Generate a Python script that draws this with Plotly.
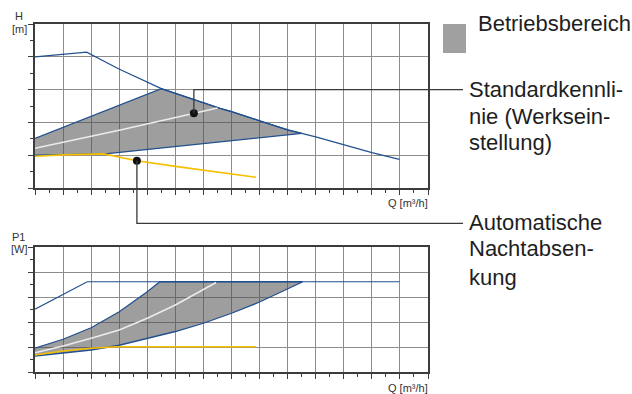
import numpy as np
import plotly.graph_objects as go

W, H = 632, 394

# ---------------- H(Q) diagram ----------------
q_hmax = [0, 1.84, 2.99, 4.5, 6.59, 7.0, 8.0, 9.0, 10.0, 11.0, 12.0, 12.98]
h_hmax = [4.0, 4.14, 3.63, 3.03, 2.43, 2.33, 2.05, 1.77, 1.56, 1.31, 1.08, 0.875]

# operating range (closed outline)
q_hrange = [0, 4.5, 6.59, 7.0, 8.0, 9.0, 9.5, 2.5, 0]
h_hrange = [1.51, 3.03, 2.43, 2.33, 2.05, 1.77, 1.665, 1.04, 1.0]

q_hstd = [0, 3.0, 6.5]
h_hstd = [1.21, 1.76, 2.44]

q_hnight = [0, 1.0, 2.45, 3.0, 3.63, 5.0, 6.59, 7.87]
h_hnight = [0.97, 1.01, 1.04, 0.94, 0.83, 0.66, 0.47, 0.33]

# ---------------- P1(Q) diagram ----------------
q_pmax = [0, 1.86, 12.98]
p_pmax = [2.51, 3.61, 3.61]

q_prange = [0, 1, 2, 3, 4, 4.45, 9.54, 8, 7, 6, 5, 4, 3, 2, 1, 0]
p_prange = [0.95, 1.31, 1.77, 2.41, 3.21, 3.61, 3.61, 2.8, 2.35, 1.95, 1.62, 1.33, 1.07, 0.88, 0.77, 0.64]

q_pstd = [0, 1, 2, 3, 4, 5, 6.45]
p_pstd = [0.77, 1.04, 1.35, 1.68, 2.15, 2.68, 3.58]

q_pnight = [0, 1, 2, 2.9, 7.87]
p_pnight = [0.68, 0.84, 0.95, 1.01, 1.01]

# callout anchor points (flow positions on the curves)
q_dot_std = 5.66
q_dot_night = 3.63

Q_RANGE = [0, 14]
Y_RANGE = [0, 5]

BLUE = "#22508f"
FILL = "rgba(78,78,78,0.55)"
WHITE_LINE = "#ececec"
YELLOW = "#f6c000"
INK = "#1e1e1e"

# plot areas in pixels (left, right, top, bottom)
TOP_BOX = (35, 428, 24, 188)
BOT_BOX = (35, 428, 247, 372)


def xdom(box):
    return [box[0] / W, box[1] / W]


def ydom(box):
    return [1 - box[3] / H, 1 - box[2] / H]


def to_paper(box, q, v):
    x = (box[0] + (q - Q_RANGE[0]) / (Q_RANGE[1] - Q_RANGE[0]) * (box[1] - box[0])) / W
    py = box[3] - (v - Y_RANGE[0]) / (Y_RANGE[1] - Y_RANGE[0]) * (box[3] - box[2])
    return x, 1 - py / H


def axis_style(rng, domain, anchor):
    return dict(
        range=rng, domain=domain, anchor=anchor,
        dtick=1, tick0=0, showgrid=True, gridcolor="#8c8c8c", gridwidth=1,
        showline=True, linecolor="#3c3c3c", linewidth=2, mirror=True,
        ticks="outside", ticklen=5, tickwidth=1.3, tickcolor="#3c3c3c",
        minor=dict(dtick=0.5, tick0=0, ticks="outside", ticklen=3,
                   tickwidth=1.2, tickcolor="#3c3c3c", showgrid=False),
        showticklabels=False, zeroline=False, fixedrange=True,
    )


fig = go.Figure()


def add_panel(xa, ya, qr, vr, qm, vm, qs, vs, qn, vn):
    fig.add_trace(go.Scatter(x=qr, y=vr, mode="lines", fill="toself", fillcolor=FILL,
                             line=dict(color=BLUE, width=1.3), xaxis=xa, yaxis=ya,
                             hoverinfo="skip"))
    fig.add_trace(go.Scatter(x=qm, y=vm, mode="lines", line=dict(color=BLUE, width=1.2),
                             xaxis=xa, yaxis=ya, hoverinfo="skip"))
    fig.add_trace(go.Scatter(x=qs, y=vs, mode="lines", line=dict(color=WHITE_LINE, width=1.5),
                             xaxis=xa, yaxis=ya, hoverinfo="skip"))
    fig.add_trace(go.Scatter(x=qn, y=vn, mode="lines", line=dict(color=YELLOW, width=1.6),
                             xaxis=xa, yaxis=ya, hoverinfo="skip"))


add_panel("x", "y", q_hrange, h_hrange, q_hmax, h_hmax, q_hstd, h_hstd, q_hnight, h_hnight)
add_panel("x2", "y2", q_prange, p_prange, q_pmax, p_pmax, q_pstd, p_pstd, q_pnight, p_pnight)

# callout dots on the standard curve and the night setback curve
h_dot_std = float(np.interp(q_dot_std, q_hstd, h_hstd))
h_dot_night = float(np.interp(q_dot_night, q_hnight, h_hnight))
fig.add_trace(go.Scatter(x=[q_dot_std, q_dot_night], y=[h_dot_std, h_dot_night], mode="markers",
                         marker=dict(color="#111111", size=8), xaxis="x", yaxis="y",
                         cliponaxis=False, hoverinfo="skip"))

# leader lines to the labels
LABEL_LINE_END = 463 / W
x_s, y_s = to_paper(TOP_BOX, q_dot_std, h_dot_std)
_, y_s_turn = to_paper(TOP_BOX, q_dot_std, 3.0)
x_n, y_n = to_paper(TOP_BOX, q_dot_night, h_dot_night)
y_n_turn = 1 - 223.3 / H

lead = dict(color="#3a3a3a", width=1.3)
shapes = [
    dict(type="path", xref="paper", yref="paper",
         path=f"M{x_s},{y_s} L{x_s},{y_s_turn} L{LABEL_LINE_END},{y_s_turn}", line=lead),
    dict(type="path", xref="paper", yref="paper",
         path=f"M{x_n},{y_n} L{x_n},{y_n_turn} L{LABEL_LINE_END},{y_n_turn}", line=lead),
    # legend swatch for the operating range
    dict(type="rect", xref="paper", yref="paper",
         x0=443 / W, x1=466 / W, y0=1 - 53 / H, y1=1 - 24 / H,
         fillcolor="#a0a0a0", line=dict(width=0)),
]

FONT = "Liberation Sans, Arial, sans-serif"
small = dict(family=FONT, size=11, color="#333333")
big = dict(family=FONT, size=22, color=INK)


def label(text, px, py, font, xanchor="left"):
    return dict(text=text, x=px / W, y=1 - py / H, xref="paper", yref="paper",
                xanchor=xanchor, yanchor="middle", showarrow=False, font=font)


annotations = [
    label("H", 19, 16, small, "center"),
    label("[m]", 19, 29, small, "center"),
    label("Q [m³/h]", 430, 203, small, "right"),
    label("P1", 18, 237, small, "center"),
    label("[W]", 19, 249, small, "center"),
    label("Q [m³/h]", 430, 388, small, "right"),
    label("Betriebsbereich", 476, 23, big),
    label("Standardkennli-", 467, 89, big),
    label("nie (Werksein-", 467, 116, big),
    label("stellung)", 467, 143, big),
    label("Automatische", 467, 222, big),
    label("Nachtabsen-", 467, 249, big),
    label("kung", 467, 277, big),
]

fig.update_layout(
    width=W, height=H, margin=dict(l=0, r=0, t=0, b=0),
    paper_bgcolor="white", plot_bgcolor="white", showlegend=False,
    xaxis=axis_style(Q_RANGE, xdom(TOP_BOX), "y"),
    yaxis=axis_style(Y_RANGE, ydom(TOP_BOX), "x"),
    xaxis2=axis_style(Q_RANGE, xdom(BOT_BOX), "y2"),
    yaxis2=axis_style(Y_RANGE, ydom(BOT_BOX), "x2"),
    shapes=shapes, annotations=annotations,
)

fig.write_html("out.html")
